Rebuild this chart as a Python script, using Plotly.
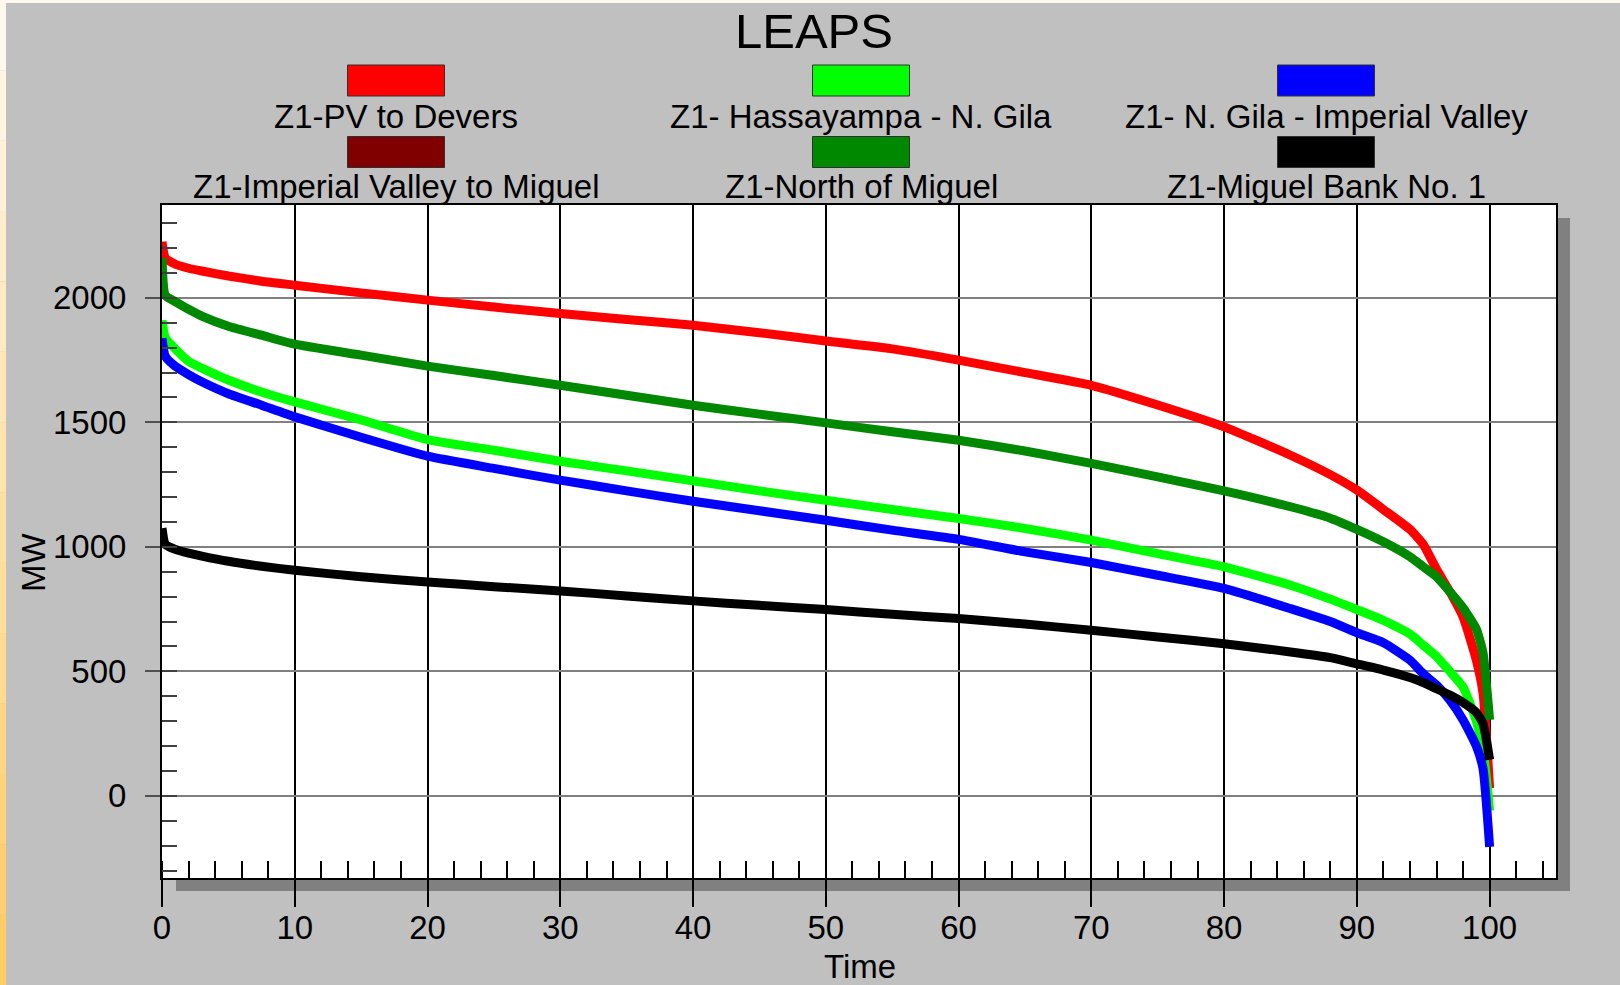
import plotly.graph_objects as go

# ---------------- data ----------------
time_pct = [0, 0.25, 1, 2, 3, 5, 7.5, 10, 15, 20, 25, 30, 35, 40, 45, 50, 55, 60, 65, 70,
            75, 80, 85, 88, 90, 92, 94, 95, 96, 97, 98, 99, 99.5, 100]

pv_to_devers = [2225, 2160, 2135, 2119, 2108, 2088, 2067, 2051, 2020, 1991, 1963, 1937, 1913, 1890,
                1860, 1827, 1795, 1750, 1700, 1649, 1570, 1482, 1368, 1290, 1228, 1150,
                1070, 1010, 910, 820, 718, 545, 413, 30]
hassayampa_ngila = [1910, 1840, 1795, 1745, 1718, 1670, 1622, 1582, 1510, 1431, 1388, 1344, 1305, 1265,
                    1225, 1187, 1150, 1114, 1074, 1027, 973, 920, 846, 790, 748, 705,
                    650, 605, 560, 500, 437, 300, 190, -60]
ngila_imperial = [1838, 1765, 1725, 1692, 1663, 1615, 1569, 1522, 1440, 1364, 1315, 1268, 1225, 1183,
                  1145, 1107, 1067, 1030, 980, 937, 886, 833, 752, 700, 655, 615,
                  545, 490, 445, 385, 305, 200, 110, -205]
north_of_miguel = [2160, 2010, 1985, 1954, 1927, 1886, 1850, 1814, 1770, 1726, 1688, 1649, 1609, 1569,
                   1533, 1498, 1462, 1428, 1385, 1335, 1281, 1225, 1161, 1115, 1070, 1020,
                   960, 920, 880, 820, 755, 670, 575, 305]
miguel_bank = [1075, 1010, 990, 975, 963, 942, 922, 906, 880, 859, 840, 823, 803, 783,
               765, 748, 729, 712, 690, 665, 638, 611, 578, 555, 530, 505,
               475, 455, 430, 405, 375, 335, 290, 145]

legend_names = [["Z1-PV to Devers", "Z1- Hassayampa - N. Gila", "Z1- N. Gila - Imperial Valley"],
                ["Z1-Imperial Valley to Miguel", "Z1-North of Miguel", "Z1-Miguel Bank No. 1"]]
legend_colors = [["#ff0000", "#00ff00", "#0000ff"],
                 ["#800000", "#008800", "#000000"]]

x_ticks = list(range(0, 101, 10))
y_ticks = [0, 500, 1000, 1500, 2000]

# ---------------- geometry helpers ----------------
W, H = 1620, 985
ML, MR, MT, MB = 162, 64, 205, 107
PW, PH = W - ML - MR, H - MT - MB


def px(X):
    return (X - ML) / PW


def py(Y):
    return (H - MB - Y) / PH


FONT = "Liberation Sans, Arial, sans-serif"

fig = go.Figure()

series = [
    ("Z1-PV to Devers", pv_to_devers, "#ff0000"),
    ("Z1- Hassayampa - N. Gila", hassayampa_ngila, "#00ff00"),
    ("Z1- N. Gila - Imperial Valley", ngila_imperial, "#0000ff"),
    ("Z1-North of Miguel", north_of_miguel, "#008800"),
    ("Z1-Miguel Bank No. 1", miguel_bank, "#000000"),
]
for name, vals, col in series:
    fig.add_trace(go.Scatter(x=time_pct, y=vals, mode="lines", name=name,
                             line=dict(color=col, width=9, shape="spline", smoothing=0.5),
                             hoverinfo="skip"))

shapes = []
# top cream strip
shapes.append(dict(type="rect", xref="paper", yref="paper", layer="below",
                   x0=px(0), x1=px(W), y0=py(3), y1=py(0),
                   fillcolor="#fff8ec", line=dict(width=0)))
# left gradient strip
n = 14
c0 = (0xff, 0xf8, 0xec)
c1 = (0xff, 0xcc, 0x66)
for i in range(n):
    t = i / (n - 1)
    c = tuple(int(round(c0[k] + (c1[k] - c0[k]) * t)) for k in range(3))
    shapes.append(dict(type="rect", xref="paper", yref="paper", layer="below",
                       x0=px(0), x1=px(6), y0=py(H * (i + 1) / n), y1=py(H * i / n),
                       fillcolor="rgb(%d,%d,%d)" % c, line=dict(width=0)))
# shadow
shapes.append(dict(type="rect", xref="paper", yref="paper", layer="below",
                   x0=px(ML + 14), x1=px(ML + PW + 14), y0=py(MT + PH + 13), y1=py(MT + 13),
                   fillcolor="#808080", line=dict(width=0)))
# white plot area
shapes.append(dict(type="rect", xref="paper", yref="paper", layer="below",
                   x0=0, x1=1, y0=0, y1=1, fillcolor="#ffffff", line=dict(width=0)))

annotations = []
# legend swatches + labels
col_x = [396, 861, 1326]
sw_y = [80.5, 152]
lab_y = [116, 186]
for r in range(2):
    for c in range(3):
        shapes.append(dict(type="rect", xref="paper", yref="paper", layer="above",
                           x0=px(col_x[c] - 48.5), x1=px(col_x[c] + 48.5),
                           y0=py(sw_y[r] + 15.5), y1=py(sw_y[r] - 15.5),
                           fillcolor=legend_colors[r][c], line=dict(color="#303030", width=1)))
        annotations.append(dict(text=legend_names[r][c], xref="paper", yref="paper",
                                x=px(col_x[c]), y=py(lab_y[r]), xanchor="center", yanchor="middle",
                                showarrow=False, font=dict(family=FONT, size=33, color="black")))

annotations.append(dict(text="LEAPS", xref="paper", yref="paper", x=px(814), y=py(31),
                        xanchor="center", yanchor="middle", showarrow=False,
                        font=dict(family=FONT, size=49, color="black")))
annotations.append(dict(text="MW", xref="paper", yref="paper", x=px(33), y=py(563),
                        xanchor="center", yanchor="middle", textangle=-90, showarrow=False,
                        font=dict(family=FONT, size=33, color="black")))
annotations.append(dict(text="Time", xref="paper", yref="paper", x=px(860), y=py(966),
                        xanchor="center", yanchor="middle", showarrow=False,
                        font=dict(family=FONT, size=33, color="black")))

fig.update_layout(
    width=W, height=H,
    margin=dict(l=ML, r=MR, t=MT, b=MB, pad=0),
    paper_bgcolor="#c0c0c0",
    plot_bgcolor="rgba(0,0,0,0)",
    showlegend=False,
    shapes=shapes,
    annotations=annotations,
    font=dict(family=FONT, size=33, color="black"),
)

fig.update_xaxes(
    range=[0, 105], tickvals=x_ticks, ticktext=[str(v) for v in x_ticks],
    showgrid=True, gridcolor="#000000", gridwidth=1.5,
    zeroline=False, showline=True, linecolor="#000000", linewidth=2, mirror=True,
    ticks="outside", ticklen=27, tickwidth=1.5, tickcolor="#000000",
    tickfont=dict(family=FONT, size=33, color="black"), ticklabelstandoff=-8,
    minor=dict(ticks="inside", ticklen=17, dtick=2, tick0=0, tickwidth=1.5,
               tickcolor="#000000", showgrid=False),
)
fig.update_yaxes(
    range=[-330, 2373], tickvals=y_ticks, ticktext=[str(v) for v in y_ticks],
    showgrid=True, gridcolor="#808080", gridwidth=2,
    zeroline=False, showline=True, linecolor="#000000", linewidth=2, mirror=True,
    ticks="outside", ticklen=15, tickwidth=2, tickcolor="#505050",
    tickfont=dict(family=FONT, size=33, color="black"), ticklabelstandoff=12,
    minor=dict(ticks="inside", ticklen=15, dtick=100, tick0=0, tickwidth=1.5,
               tickcolor="#404040", showgrid=False),
)

fig.write_html("out.html")
